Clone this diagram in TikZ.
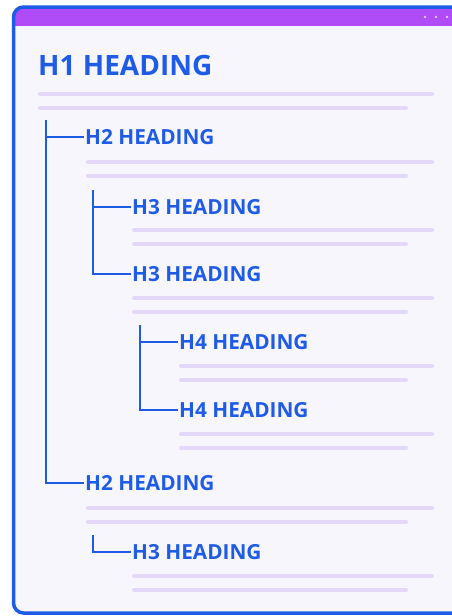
\documentclass[tikz,border=0pt]{standalone}
\usepackage{fontspec}
\setmainfont{Open Sans}
\definecolor{hblue}{HTML}{1E5BE6}
\definecolor{hpurple}{HTML}{B04CF7}
\definecolor{hline}{HTML}{E4D8F8}
\definecolor{hbg}{HTML}{F8F6FD}
\definecolor{hdot}{HTML}{E2C4FF}
\begin{document}
\begin{tikzpicture}[x=1pt,y=-1pt,
  heading/.style={anchor=base west,inner sep=0pt,text=hblue,font=\bfseries\fontsize{20.8}{22}\selectfont},
  htop/.style={heading,font=\bfseries\fontsize{28}{30}\selectfont},
  textline/.style={hline,line width=4pt,line cap=round},
  tree/.style={hblue,line width=2.2pt}]
\useasboundingbox (0,0) rectangle (452,616);
\fill[white] (0,0) rectangle (452,616);
% window
\begin{scope}
\clip (0,0) rectangle (452,616);
\path[fill=hbg,rounded corners=10pt] (13.5,7) rectangle (480,613);
\begin{scope}
\clip[rounded corners=10pt] (13.5,7) rectangle (480,613);
\fill[hpurple] (10,5) rectangle (480,26);
\end{scope}
\draw[hblue,line width=3.5pt,rounded corners=10pt] (13.5,7) rectangle (480,613);
\end{scope}
\foreach \dx in {425,436,447} \fill[hdot] (\dx,17) circle (1.4);
% headings
\node[htop] (h1) at (38,75) {H1 HEADING};
\node[heading] (h2a) at (85,144.5) {H2 HEADING};
\node[heading] (h3a) at (132,214.5) {H3 HEADING};
\node[heading] (h3b) at (132,281.5) {H3 HEADING};
\node[heading] (h4a) at (179,349.5) {H4 HEADING};
\node[heading] (h4b) at (179,417.5) {H4 HEADING};
\node[heading] (h2b) at (85,490.5) {H2 HEADING};
\node[heading] (h3c) at (132,559.5) {H3 HEADING};
% tree coordinates
\coordinate (t2top) at (46,120);
\coordinate (t2a) at (46,137);
\coordinate (t2b) at (46,483);
\coordinate (t3top) at (93,190);
\coordinate (t3a) at (93,207);
\coordinate (t3b) at (93,274);
\coordinate (t4top) at (140,325);
\coordinate (t4a) at (140,342);
\coordinate (t4b) at (140,410);
\coordinate (t3ctop) at (93,535);
\coordinate (t3c) at (93,552);
\draw[tree] (t2top) -- (t2b) -- ([xshift=-1pt]h2b.west |- t2b);
\draw[tree] (t2a) -- ([xshift=-1pt]h2a.west |- t2a);
\draw[tree] (t3top) -- (t3b) -- ([xshift=-1pt]h3b.west |- t3b);
\draw[tree] (t3a) -- ([xshift=-1pt]h3a.west |- t3a);
\draw[tree] (t4top) -- (t4b) -- ([xshift=-1pt]h4b.west |- t4b);
\draw[tree] (t4a) -- ([xshift=-1pt]h4a.west |- t4a);
\draw[tree] (t3ctop) -- (t3c) -- ([xshift=-1pt]h3c.west |- t3c);
% text lines
\foreach \x/\y in {40/94,88/162,134/230,134/298,181/366,181/434,88/508,134/576}{
  \draw[textline] (\x,\y) -- (432,\y);
  \draw[textline] (\x,\y+13.5) -- (406,\y+13.5);
}
\end{tikzpicture}
\end{document}
